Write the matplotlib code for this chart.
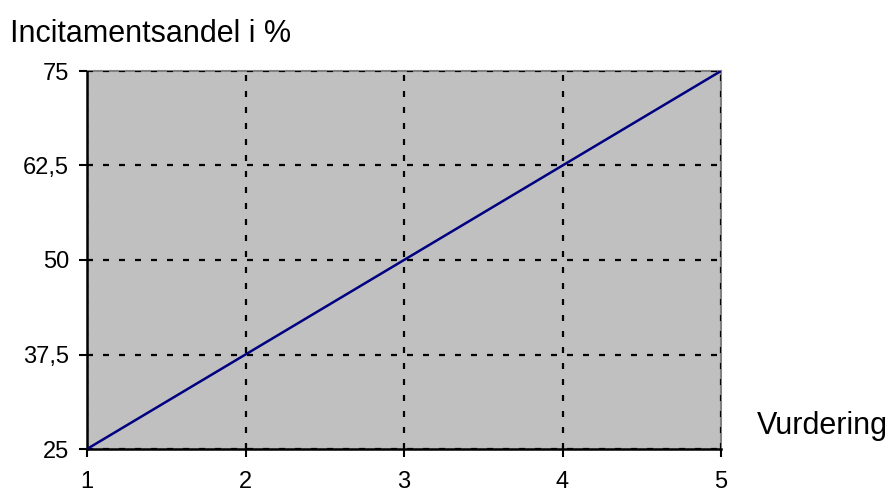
import matplotlib
matplotlib.use('Agg')
import matplotlib.pyplot as plt

plt.rcParams['font.family'] = ['Liberation Sans', 'DejaVu Sans']

vurdering = [1, 2, 3, 4, 5]
andel = [25, 37.5, 50, 62.5, 75]
y_ticks = [25, 37.5, 50, 62.5, 75]
y_labels = ['25', '37,5', '50', '62,5', '75']

fig = plt.figure(figsize=(8.89, 4.92), dpi=100)
ax = fig.add_axes([87 / 889, 1 - 449 / 492, (721 - 87) / 889, (449 - 71) / 492])
ax.set_facecolor('#c0c0c0')

ax.plot(vurdering, andel, color='#000080', linewidth=1.8, zorder=3)

ax.set_xlim(1, 5)
ax.set_ylim(25, 75)
ax.set_xticks(vurdering)
ax.set_yticks(y_ticks)
ax.set_yticklabels(y_labels)
ax.tick_params(labelsize=17, length=6, width=1.5, color='black')
ax.tick_params(axis='y', pad=7)
ax.tick_params(axis='x', pad=10)

ax.grid(True, color='black', linestyle=(0, (2.7, 4.5)), linewidth=1.6)
ax.set_axisbelow(False)

for side in ('top', 'right'):
    ax.spines[side].set_color('#808080')
    ax.spines[side].set_linewidth(1.5)
for side in ('left', 'bottom'):
    ax.spines[side].set_color('black')
    ax.spines[side].set_linewidth(1.8)

fig.text(10 / 889, 1 - 42 / 492, 'Incitamentsandel i %', fontsize=22, va='baseline', ha='left')
fig.text(757 / 889, 1 - 434 / 492, 'Vurdering', fontsize=22, va='baseline', ha='left')

fig.savefig('out.png', dpi=100)
